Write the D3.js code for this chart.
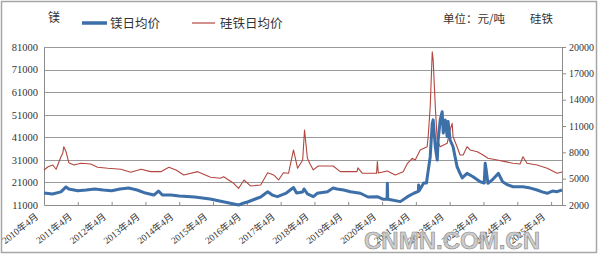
<!DOCTYPE html>
<html>
<head>
<meta charset="utf-8">
<script src="https://cdn.jsdelivr.net/npm/d3@7"></script>
<style>
  body { margin: 0; background: #fff; }
  svg { display: block; }
</style>
</head>
<body>
<div id="chart"></div>
<script>
const width = 600;
const height = 258;

// 镁日均价 (left axis)
const mgDates = ["2010-04-01","2010-07-01","2010-10-01","2010-11-25","2010-12-25","2011-04-01","2011-07-01","2011-10-01","2012-01-01","2012-04-01","2012-07-01","2012-10-01","2013-01-01","2013-04-01","2013-07-01","2013-08-20","2013-10-01","2014-01-01","2014-04-01","2014-09-15","2015-03-01","2015-09-10","2016-01-03","2016-03-01","2016-04-15","2016-07-01","2016-08-28","2016-11-12","2017-01-01","2017-02-25","2017-06-01","2017-08-18","2017-09-20","2017-11-25","2017-12-10","2018-01-15","2018-03-20","2018-05-01","2018-08-20","2018-10-20","2018-12-01","2019-02-10","2019-04-25","2019-08-10","2019-11-01","2020-02-10","2020-04-15","2020-05-25","2020-05-28","2020-06-01","2020-06-20","2020-10-15","2021-01-01","2021-03-10","2021-04-28","2021-05-01","2021-05-05","2021-06-25","2021-07-25","2021-08-01","2021-09-03","2021-09-25","2021-10-05","2021-10-28","2021-11-18","2021-11-28","2021-12-20","2022-01-10","2022-01-22","2022-02-12","2022-03-05","2022-03-15","2022-04-06","2022-05-08","2022-06-20","2022-07-22","2022-08-15","2022-10-06","2022-12-10","2023-02-25","2023-04-10","2023-04-20","2023-05-01","2023-05-20","2023-07-05","2023-09-10","2023-10-25","2023-12-20","2024-02-15","2024-06-01","2024-08-20","2024-11-01","2024-12-25","2025-02-18","2025-04-15","2025-06-05","2025-07-28"];
const mgPrices = [16300,15900,16800,19000,18100,17300,17650,18100,17650,17300,18100,18500,17650,16300,15400,17200,15400,15400,15000,14550,13650,12000,11000,11900,12450,13650,14550,16900,15400,14700,16300,18750,16300,16800,18100,15900,14700,16200,16900,18500,18100,17650,16900,16200,14550,14700,13500,13500,20600,13500,13450,12500,14700,16200,17000,19900,17200,20750,20750,23000,32400,47200,48700,36800,30900,39800,48700,52300,42900,48700,41300,48000,39800,36800,28000,25000,23000,25000,23500,21300,20750,29500,26500,20600,22100,25000,21300,19900,19100,19100,18500,17650,16800,16200,17200,16900,17650];

// 硅铁日均价 (right axis)
const fesiDates = ["2010-04-01","2010-05-15","2010-07-05","2010-08-10","2010-10-01","2010-10-20","2010-11-01","2010-11-25","2010-12-25","2011-02-18","2011-05-05","2011-08-20","2011-11-01","2012-02-20","2012-07-10","2012-10-25","2013-02-12","2013-05-28","2013-09-15","2013-12-10","2014-02-25","2014-05-20","2014-10-18","2015-03-06","2015-06-20","2015-07-25","2015-11-10","2016-01-03","2016-03-01","2016-05-10","2016-08-28","2016-11-12","2017-01-15","2017-03-10","2017-05-01","2017-06-25","2017-08-18","2017-10-01","2017-11-25","2017-12-15","2018-01-15","2018-02-18","2018-03-20","2018-05-12","2018-10-20","2019-01-05","2019-07-05","2019-07-15","2019-09-01","2020-02-01","2020-02-10","2020-02-20","2020-05-28","2020-08-22","2020-11-15","2021-01-01","2021-02-20","2021-03-25","2021-05-18","2021-08-01","2021-08-12","2021-09-03","2021-09-25","2021-10-05","2021-10-28","2021-11-18","2021-12-20","2022-03-05","2022-04-06","2022-04-28","2022-05-08","2022-06-20","2022-07-22","2022-08-25","2022-10-06","2022-11-08","2023-01-25","2023-03-28","2023-05-20","2023-08-28","2023-11-22","2024-02-15","2024-05-01","2024-06-01","2024-07-15","2024-11-01","2025-02-18","2025-06-05","2025-07-28"];
const fesiPrices = [5990,6360,6560,6070,7500,7890,8640,8070,6820,6560,6750,6670,6300,6180,6070,5720,6070,5800,5800,6300,5990,5420,5800,5160,5040,5220,4470,3900,4850,4170,4280,5680,5420,4850,5680,5610,8270,6180,7130,10550,7320,6560,6000,6440,6440,5800,5800,6240,5610,5610,6940,5650,5870,5420,5800,6750,7320,7130,8270,8640,9780,13200,19460,18520,13200,9400,8640,9030,10550,11300,9780,8640,7700,7700,8640,8270,8070,7700,7320,7130,6940,6750,6670,7500,6750,6560,6180,5610,5760];

const leftTicks = [11000,21000,31000,41000,51000,61000,71000,81000];
const rightTicks = [2000,5000,8000,11000,14000,17000,20000];
const xTickDates = ["2010-04-01","2011-04-01","2012-04-01","2013-04-01","2014-04-01","2015-04-01","2016-04-01","2017-04-01","2018-04-01","2019-04-01","2020-04-01","2021-04-01","2022-04-01","2023-04-01","2024-04-01","2025-04-01"];
const xTickLabels = ["2010年4月","2011年4月","2012年4月","2013年4月","2014年4月","2015年4月","2016年4月","2017年4月","2018年4月","2019年4月","2020年4月","2021年4月","2022年4月","2023年4月","2024年4月","2025年4月"];

const parse = d3.timeParse("%Y-%m-%d");
const mgData = mgDates.map((d, i) => ({ date: parse(d), value: mgPrices[i] }));
const fesiData = fesiDates.map((d, i) => ({ date: parse(d), value: fesiPrices[i] }));

const plotLeft = 44, plotRight = 562, plotTop = 47, plotBottom = 205;

const x = d3.scaleTime()
  .domain([parse("2010-04-01"), parse("2025-07-28")])
  .range([plotLeft, plotRight]);
const yLeft = d3.scaleLinear().domain([11000, 81000]).range([plotBottom, plotTop]);
const yRight = d3.scaleLinear().domain([2000, 20000]).range([plotBottom, plotTop]);

const serif = "'Liberation Serif', 'Times New Roman', 'Noto Sans CJK SC', serif";
const cjk = "'Noto Sans CJK SC', sans-serif";

const svg = d3.select("#chart").append("svg")
  .attr("width", width)
  .attr("height", height);

// outer frame
svg.append("rect")
  .attr("x", 1.5).attr("y", 1.5)
  .attr("width", 595).attr("height", 251)
  .attr("fill", "#fff")
  .attr("stroke", "#a6a6a6")
  .attr("stroke-width", 1.5);

// gridlines
svg.append("g").selectAll("line")
  .data(leftTicks.slice(1))
  .enter().append("line")
  .attr("x1", plotLeft).attr("x2", plotRight)
  .attr("y1", d => Math.round(yLeft(d)) + 0.5)
  .attr("y2", d => Math.round(yLeft(d)) + 0.5)
  .attr("stroke", "#9a9a9a")
  .attr("stroke-width", 1);

// left axis
const leftAxis = svg.append("g")
  .attr("transform", "translate(" + plotLeft + ",0)")
  .call(d3.axisLeft(yLeft).tickValues(leftTicks).tickSize(0).tickPadding(6).tickFormat(d3.format("d")));
leftAxis.select(".domain").attr("stroke", "#8c8c8c");
leftAxis.selectAll("text").attr("font-family", serif).attr("font-size", 10.5).attr("fill", "#333");

// right axis
const rightAxis = svg.append("g")
  .attr("transform", "translate(" + plotRight + ",0)")
  .call(d3.axisRight(yRight).tickValues(rightTicks).tickSize(4).tickSizeOuter(0).tickPadding(3).tickFormat(d3.format("d")));
rightAxis.select(".domain").attr("stroke", "#8c8c8c");
rightAxis.selectAll("line").attr("stroke", "#8c8c8c");
rightAxis.selectAll("text").attr("font-family", serif).attr("font-size", 10).attr("fill", "#333");

// bottom axis
const bottomAxis = svg.append("g")
  .attr("transform", "translate(0," + plotBottom + ")")
  .call(d3.axisBottom(x).tickValues(xTickDates.map(parse)).tickSize(-3).tickSizeOuter(0).tickFormat(""));
bottomAxis.select(".domain").attr("stroke", "#8c8c8c");
bottomAxis.selectAll("line").attr("stroke", "#8c8c8c");

svg.append("g").selectAll("text")
  .data(xTickDates)
  .enter().append("text")
  .attr("transform", d => "translate(" + (x(parse(d)) - 5) + ",218) rotate(-38)")
  .attr("text-anchor", "end")
  .attr("font-family", serif)
  .attr("font-size", 9.5)
  .attr("fill", "#333")
  .text((d, i) => xTickLabels[i]);

// lines
const lineLeft = d3.line().x(d => x(d.date)).y(d => yLeft(d.value));
const lineRight = d3.line().x(d => x(d.date)).y(d => yRight(d.value));

svg.append("path")
  .datum(fesiData)
  .attr("d", lineRight)
  .attr("fill", "none")
  .attr("stroke", "#b3473f")
  .attr("stroke-width", 1.1)
  .attr("stroke-linejoin", "round");

svg.append("path")
  .datum(mgData)
  .attr("d", lineLeft)
  .attr("fill", "none")
  .attr("stroke", "#3d6fa8")
  .attr("stroke-width", 3)
  .attr("stroke-linejoin", "round");

// titles and legend
svg.append("text").attr("x", 48).attr("y", 22)
  .attr("font-family", cjk).attr("font-size", 12).attr("fill", "#333").text("镁");

svg.append("line").attr("x1", 82).attr("x2", 107).attr("y1", 23).attr("y2", 23)
  .attr("stroke", "#3d6fa8").attr("stroke-width", 3.5);
svg.append("text").attr("x", 110).attr("y", 27.5)
  .attr("font-family", cjk).attr("font-size", 12.5).attr("fill", "#333").text("镁日均价");

svg.append("line").attr("x1", 192).attr("x2", 215).attr("y1", 23).attr("y2", 23)
  .attr("stroke", "#b3473f").attr("stroke-width", 1.2);
svg.append("text").attr("x", 220).attr("y", 27.5)
  .attr("font-family", cjk).attr("font-size", 12.5).attr("fill", "#333").text("硅铁日均价");

svg.append("text").attr("x", 443).attr("y", 23)
  .attr("font-family", cjk).attr("font-size", 11.5).attr("fill", "#333").text("单位：元/吨");
svg.append("text").attr("x", 530).attr("y", 23)
  .attr("font-family", cjk).attr("font-size", 11.5).attr("fill", "#333").text("硅铁");

// watermark
svg.append("text").attr("x", 452).attr("y", 249)
  .attr("text-anchor", "middle")
  .attr("font-family", "'Liberation Sans', Arial, sans-serif")
  .attr("font-weight", "bold")
  .attr("font-size", 24)
  .attr("fill", "#c4c4c4")
  .attr("fill-opacity", 0.85)
  .attr("stroke", "#8a8a8a")
  .attr("stroke-width", 0.6)
  .text("CNMN.COM.CN");
</script>
</body>
</html>
